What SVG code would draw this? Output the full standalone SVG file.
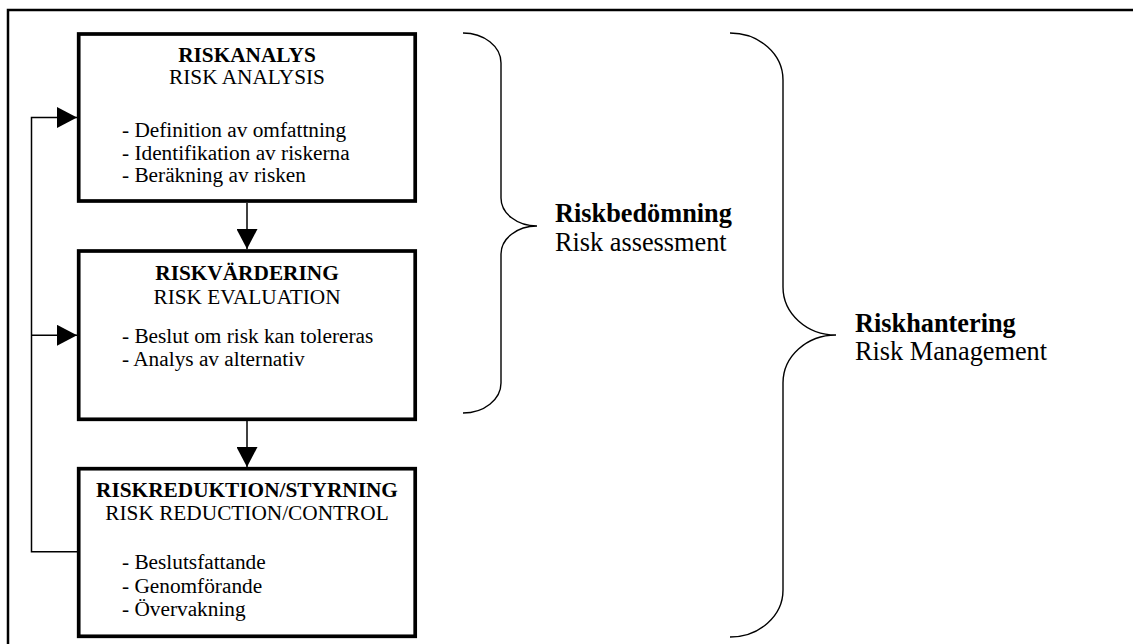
<svg xmlns="http://www.w3.org/2000/svg" width="1133" height="644" viewBox="0 0 1133 644">
<style>
text{font-family:"Liberation Serif","Times New Roman",serif;fill:#000}
.box{fill:#fff;stroke:#000;stroke-width:3.7}
.t{font-size:21.3px;text-anchor:middle}
.b{font-weight:bold}
.li{font-size:21.3px}
.big{font-size:26.3px}
.line{fill:none;stroke:#000;stroke-width:1.5}
.brace{fill:none;stroke:#000;stroke-width:1.4}
</style>
<defs>
<marker id="ah" markerWidth="20" markerHeight="21" refX="20" refY="10.5" orient="auto" markerUnits="userSpaceOnUse">
<path d="M0,0 L20,10.5 L0,21 Z" fill="#000"/>
</marker>
</defs>
<rect width="1133" height="644" fill="#fff"/>
<path d="M8 644 V10 H1133" fill="none" stroke="#000" stroke-width="2.5"/>
<g id="connectors">
<path class="line" d="M247 203 V249" marker-end="url(#ah)"/>
<path class="line" d="M247 421 V467" marker-end="url(#ah)"/>
<path class="line" d="M77 551.7 H31.5 V117.5 H77" marker-end="url(#ah)"/>
<path class="line" d="M31.5 335.3 H77" marker-end="url(#ah)"/>
</g>
<g id="riskanalys">
<rect class="box" x="78.7" y="34" width="336.5" height="167"/>
<text class="t b" x="247" y="61.7">RISKANALYS</text>
<text class="t" x="247" y="83.5">RISK ANALYSIS</text>
<text class="li" x="122" y="137">- Definition av omfattning</text>
<text class="li" x="122" y="159.5">- Identifikation av riskerna</text>
<text class="li" x="122" y="182">- Beräkning av risken</text>
</g>
<g id="riskvardering">
<rect class="box" x="78.7" y="251" width="336.5" height="168.3"/>
<text class="t b" x="247" y="280">RISKVÄRDERING</text>
<text class="t" x="247" y="303.5">RISK EVALUATION</text>
<text class="li" x="122" y="343">- Beslut om risk kan tolereras</text>
<text class="li" x="122" y="366">- Analys av alternativ</text>
</g>
<g id="riskreduktion">
<rect class="box" x="78.7" y="468.7" width="336.5" height="167.6"/>
<text class="t b" x="247" y="497">RISKREDUKTION/STYRNING</text>
<text class="t" x="247" y="520">RISK REDUCTION/CONTROL</text>
<text class="li" x="122" y="569">- Beslutsfattande</text>
<text class="li" x="122" y="592.5">- Genomförande</text>
<text class="li" x="122" y="616">- Övervakning</text>
</g>
<g id="riskbedomning">
<path class="brace" d="M463 33 A38 30 0 0 1 501 63 V198 A36 28 0 0 0 537 226 A36 28 0 0 0 501 254 V383 A38 30 0 0 1 463 413"/>
<text class="big b" x="555" y="221.7">Riskbedömning</text>
<text class="big" x="555" y="251">Risk assessment</text>
</g>
<g id="riskhantering">
<path class="brace" d="M730 33 A53 47 0 0 1 783 80 V287 A53 48 0 0 0 836 335 A53 48 0 0 0 783 383 V590 A53 47 0 0 1 730 637"/>
<text class="big b" x="855" y="331.7">Riskhantering</text>
<text class="big" x="855" y="360">Risk Management</text>
</g>
</svg>
